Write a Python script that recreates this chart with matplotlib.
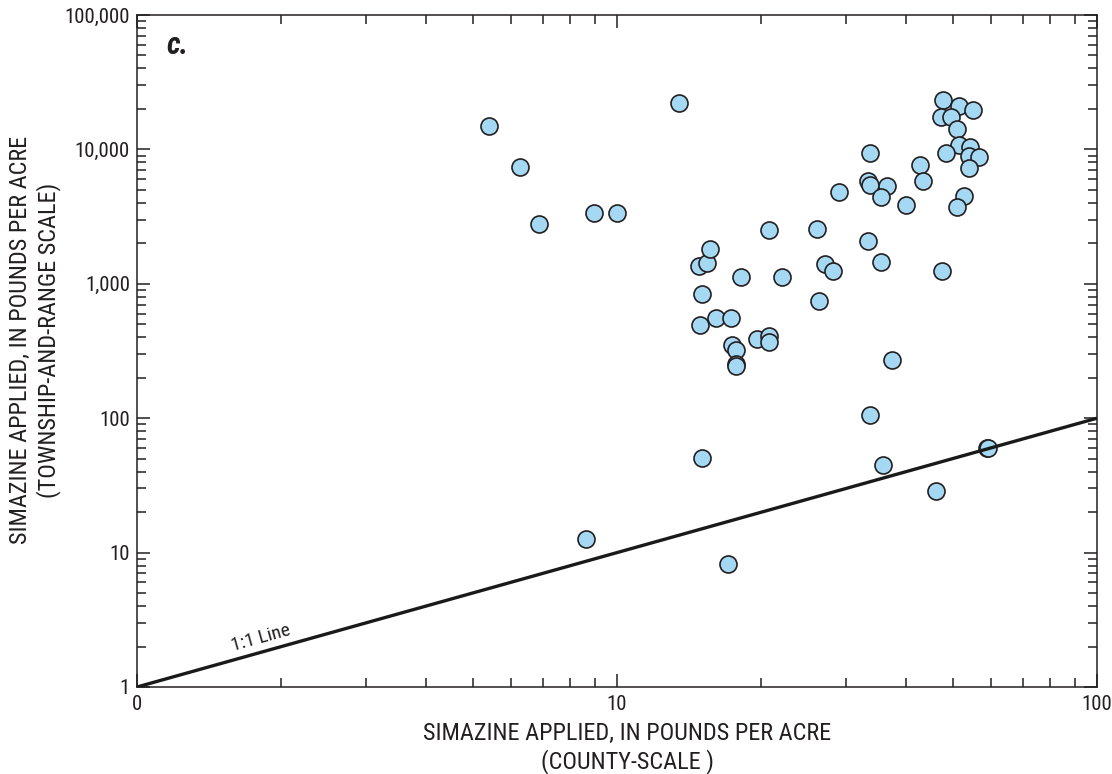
import matplotlib
matplotlib.use("Agg")
import matplotlib.pyplot as plt
from matplotlib import font_manager
from matplotlib.ticker import FixedLocator, FixedFormatter, LogLocator, NullFormatter

# Simazine applied: county-scale (x) vs township-and-range scale (y), pounds per acre
county_scale = [
    5.42, 6.27, 6.89, 8.96, 10.0, 13.45, 8.62,
    14.8, 15.4, 15.6, 15.0, 14.9, 16.1, 17.3, 17.4, 17.7, 17.7, 17.7,
    19.6, 20.7, 20.7, 18.1, 22.1, 20.7, 26.1, 27.1, 28.2, 26.3,
    15.0, 17.0, 33.6, 35.9, 46.2, 59.0, 59.4, 37.4,
    35.5, 47.5, 33.4, 29.0, 33.4, 33.6, 36.5, 35.5, 40.0, 42.8, 43.3, 33.7,
    52.9, 51.0, 47.8, 51.5, 55.2, 47.4, 49.6, 51.1, 51.6, 54.4, 48.5,
    54.1, 56.9, 54.0,
]
township_scale = [
    14900, 7450, 2800, 3380, 3370, 22200, 12.6,
    1360, 1440, 1830, 840, 490, 555, 555, 350, 322, 253, 245,
    390, 409, 367, 1125, 1130, 2510, 2540, 1400, 1250, 740,
    51, 8.2, 106, 45, 28.7, 60.0, 60.3, 271,
    1450, 1240, 2070, 4800, 5850, 5460, 5370, 4450, 3860, 7690, 5800, 9400,
    4480, 3750, 23300, 21100, 19600, 17500, 17500, 14100, 10700, 10500, 9400,
    8930, 8780, 7230,
]

one_to_one = [1, 100]

x_ticks = [1, 10, 100]
x_tick_labels = ["0", "10", "100"]
y_ticks = [1, 10, 100, 1000, 10000, 100000]
y_tick_labels = ["1", "10", "100", "1,000", "10,000", "100,000"]

available = {f.name for f in font_manager.fontManager.ttflist}
family = [f for f in ["Liberation Sans Narrow", "Roboto Condensed", "Liberation Sans"]
          if f in available] + ["DejaVu Sans"]
plt.rcParams["font.family"] = family

fig = plt.figure(figsize=(11.12, 7.74), dpi=100)
ax = fig.add_axes([137 / 1112, 1 - 687 / 774, 960 / 1112, 672 / 774])

ax.set_xscale("log")
ax.set_yscale("log")
ax.set_xlim(1, 100)
ax.set_ylim(1, 100000)

ax.scatter(county_scale, township_scale, s=150, facecolor="#A5D8F3",
           edgecolor="#231F20", linewidth=1.2, zorder=3)
ax.plot(one_to_one, one_to_one, color="#1a1a1a", linewidth=2.4, zorder=4,
        solid_capstyle="butt")

ax.text(1.83, 2.0, "1:1 Line", rotation=15.6, fontsize=14, color="#231F20",
        ha="center", va="bottom", rotation_mode="anchor")
ax.text(0.031, 0.955, "c.", transform=ax.transAxes, fontsize=22,
        fontweight="bold", fontstyle="italic", color="#231F20",
        ha="left", va="center")

ax.xaxis.set_major_locator(FixedLocator(x_ticks))
ax.xaxis.set_major_formatter(FixedFormatter(x_tick_labels))
ax.yaxis.set_major_locator(FixedLocator(y_ticks))
ax.yaxis.set_major_formatter(FixedFormatter(y_tick_labels))
ax.xaxis.set_minor_locator(LogLocator(base=10, subs=range(2, 10), numticks=20))
ax.yaxis.set_minor_locator(LogLocator(base=10, subs=range(2, 10), numticks=20))
ax.xaxis.set_minor_formatter(NullFormatter())
ax.yaxis.set_minor_formatter(NullFormatter())

ax.tick_params(which="both", direction="in", top=True, right=True,
               color="#231F20", width=1.1, labelsize=15, labelcolor="#231F20")
ax.tick_params(which="major", length=9.5, pad=6)
ax.tick_params(axis="y", which="major", pad=5)
ax.tick_params(which="minor", length=6.5)

for sp in ax.spines.values():
    sp.set_linewidth(1.1)
    sp.set_color("#231F20")

ax.set_xlabel("SIMAZINE APPLIED, IN POUNDS PER ACRE\n(COUNTY-SCALE )",
              fontsize=17.5, color="#231F20", linespacing=1.2)
ax.xaxis.set_label_coords(0.511, -0.052, transform=ax.transAxes)
ax.xaxis.label.set_va("top")
ax.set_ylabel("SIMAZINE APPLIED, IN POUNDS PER ACRE\n(TOWNSHIP-AND-RANGE SCALE)",
              fontsize=17.5, color="#231F20", linespacing=1.2)
ax.yaxis.set_label_coords(-0.106, 0.516, transform=ax.transAxes)
ax.yaxis.label.set_va("center")

fig.savefig("out.png", dpi=100, facecolor="white")
